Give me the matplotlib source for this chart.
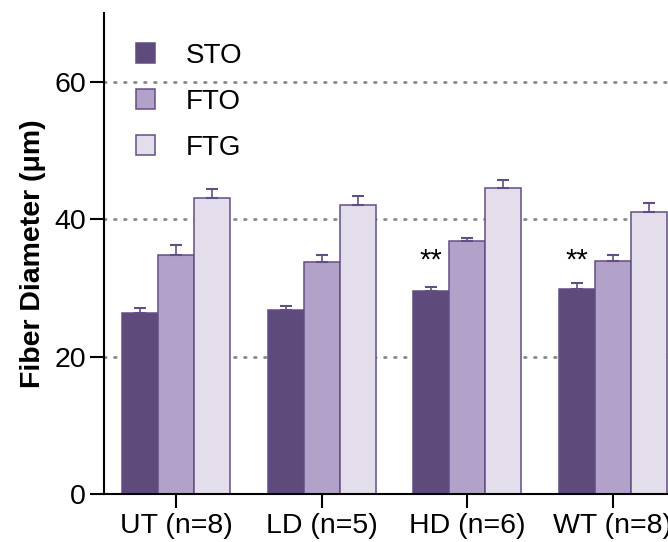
import matplotlib
matplotlib.use("Agg")
import matplotlib.pyplot as plt
import numpy as np

plt.rcParams['font.family'] = ['Liberation Sans', 'DejaVu Sans']

# data
groups = ["UT (n=8)", "LD (n=5)", "HD (n=6)", "WT (n=8)"]
series = ["STO", "FTO", "FTG"]
sto = [26.3, 26.8, 29.5, 29.9]
fto = [34.8, 33.7, 36.8, 33.9]
ftg = [43.1, 42.0, 44.5, 41.1]
sto_err = [0.7, 0.6, 0.6, 0.8]
fto_err = [1.5, 1.1, 0.4, 0.9]
ftg_err = [1.3, 1.3, 1.2, 1.2]
stars = ["", "", "**", "**"]

fills = ["#5f4a7c", "#b2a1c8", "#e4deec"]
edge = "#634e84"

fig = plt.figure(figsize=(6.68, 5.42), dpi=100)
ax = fig.add_axes([0.1557, 0.0886, 0.871, 0.8875])

x = np.arange(len(groups))
w = 0.247
vals = [sto, fto, ftg]
errs = [sto_err, fto_err, ftg_err]
for i, (v, e) in enumerate(zip(vals, errs)):
    xs = x + (i - 1) * w
    ax.bar(xs, v, width=w, color=fills[i], edgecolor=edge, linewidth=1.1,
           label=series[i], zorder=2)
    ax.errorbar(xs, v, yerr=[np.zeros(len(e)), e], fmt='none', ecolor=edge,
                elinewidth=1.2, capsize=4, capthick=1.5, zorder=3)

# significance marks above STO bars
for xi, s in zip(x - w, stars):
    if s:
        ax.text(xi, 32.0, s, ha='center', va='bottom', fontsize=21)

ax.set_xlim(-0.494, 3.5)
ax.set_ylim(0, 70)
ax.set_yticks([0, 20, 40, 60])
ax.set_xticks(x)
ax.set_xticklabels(groups)
ax.tick_params(axis='both', labelsize=20.5, length=10, width=1.5, direction='out')
ax.tick_params(axis='x', pad=4)
ax.tick_params(axis='y', pad=3)
ax.set_ylabel("Fiber Diameter (\u03bcm)", fontsize=20.5, fontweight='bold', labelpad=6)

for sp in ['top', 'right']:
    ax.spines[sp].set_visible(False)
for sp in ['left', 'bottom']:
    ax.spines[sp].set_linewidth(1.5)

for gy in [20, 40, 60]:
    ax.axhline(gy, color='#888888', linewidth=2.0, linestyle=(0, (0.6, 3.0)),
               dash_capstyle='round', zorder=1)

leg = ax.legend(loc='upper left', bbox_to_anchor=(0.012, 0.99), frameon=False,
                fontsize=20, handlelength=0.7, handleheight=0.7,
                labelspacing=0.72, handletextpad=1.1)

fig.savefig("out.png", dpi=100)
